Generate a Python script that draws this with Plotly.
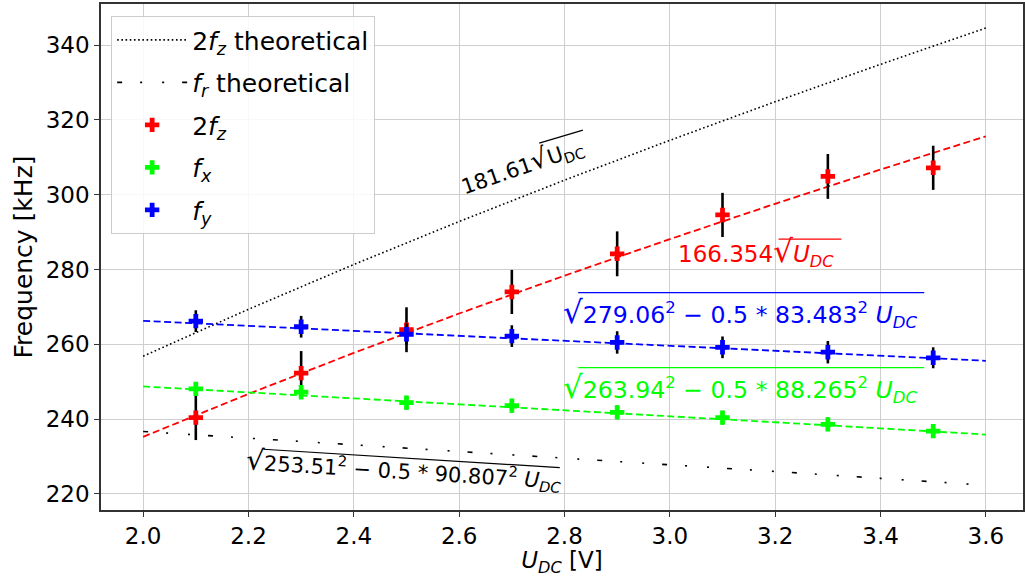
import plotly.graph_objects as go

# ---------------- data ----------------
U_meas = [2.1, 2.3, 2.5, 2.7, 2.9, 3.1, 3.3, 3.5]
f2z = [240.4, 252.3, 263.9, 274.0, 284.2, 294.6, 304.9, 307.2]
f2z_err = [6.0, 5.9, 6.0, 5.9, 6.0, 5.9, 6.0, 5.9]
fx = [248.1, 247.2, 244.4, 243.6, 241.8, 240.4, 238.6, 236.8]
fx_err = [1.8, 1.8, 1.8, 1.8, 1.8, 1.8, 1.8, 1.8]
fy = [266.2, 264.7, 262.7, 262.2, 260.5, 259.2, 257.9, 256.4]
fy_err = [2.9, 2.9, 2.9, 2.9, 3.0, 2.9, 3.0, 2.8]

U_line = [2.0, 2.2, 2.4, 2.6, 2.8, 3.0, 3.2, 3.4, 3.6]
f2z_theory = [256.83, 269.37, 281.35, 292.84, 303.89, 314.55, 324.87, 334.87, 344.58]
fr_theory = [236.69, 234.94, 233.18, 231.40, 229.62, 227.81, 226.00, 224.16, 222.32]
f2z_fit = [235.26, 246.74, 257.71, 268.24, 278.36, 288.13, 297.58, 306.74, 315.63]
fx_fit = [248.74, 247.17, 245.59, 244.00, 242.40, 240.79, 239.16, 237.53, 235.88]
fy_fit = [266.28, 264.97, 263.65, 262.32, 261.00, 259.65, 258.31, 256.96, 255.60]

x_ticks = [2.0, 2.2, 2.4, 2.6, 2.8, 3.0, 3.2, 3.4, 3.6]
y_ticks = [220, 240, 260, 280, 300, 320, 340]

FONT = "DejaVu Sans"
FS = 23
RED, GREEN, BLUE = "#ff0000", "#00ff00", "#0000ff"

fig = go.Figure()

fig.add_trace(go.Scatter(x=U_line, y=f2z_theory, mode="lines", legendgroup="a",
                         line=dict(color="black", width=1.6, dash="1.6px,2.6px"),
                         name="2<i>f</i><sub><i>z</i></sub> theoretical"))
fig.add_trace(go.Scatter(x=U_line, y=fr_theory, mode="lines", legendgroup="b",
                         line=dict(color="black", width=1.6, dash="5px,18px,2px,20px,2px,18px"),
                         name="<i>f</i><sub><i>r</i></sub> theoretical"))

# fit lines (not in legend)
for yy, col in [(f2z_fit, RED), (fx_fit, GREEN), (fy_fit, BLUE)]:
    fig.add_trace(go.Scatter(x=U_line, y=yy, mode="lines", showlegend=False,
                             line=dict(color=col, width=1.8, dash="7px,3.5px")))

for yy, ee, col, nm, g in [(f2z, f2z_err, RED, "2<i>f</i><sub><i>z</i></sub>", "c"),
                           (fx, fx_err, GREEN, "<i>f</i><sub><i>x</i></sub>", "d"),
                           (fy, fy_err, BLUE, "<i>f</i><sub><i>y</i></sub>", "e")]:
    fig.add_trace(go.Scatter(x=U_meas, y=yy, mode="markers", name=nm, legendgroup=g,
                             marker=dict(symbol="cross", size=12, color=col, line=dict(width=0)),
                             error_y=dict(type="data", array=ee, visible=True,
                                          color="black", thickness=2.6, width=0)))

def sq(size):
    return "<span style='font-size:%dpx'>√</span>" % size

annotations = [
    dict(x=2.72, y=307.9, text="181.61" + sq(27) + "U<sub>DC</sub>", textangle=-19,
         font=dict(size=21, color="black")),
    dict(x=3.163, y=284.6, text="166.354" + sq(31) + "<i>U</i><sub><i>DC</i></sub>",
         font=dict(size=FS, color=RED)),
    dict(x=3.134, y=268.5, text=sq(31) + "279.06<sup>2</sup> − 0.5 * 83.483<sup>2</sup> <i>U</i><sub><i>DC</i></sub>",
         font=dict(size=23.6, color=BLUE)),
    dict(x=3.134, y=248.3, text=sq(31) + "263.94<sup>2</sup> − 0.5 * 88.265<sup>2</sup> <i>U</i><sub><i>DC</i></sub>",
         font=dict(size=23.6, color=GREEN)),
    dict(x=2.496, y=226.4, text=sq(28) + "253.51<sup>2</sup> − 0.5 * 90.807<sup>2</sup> <i>U</i><sub><i>DC</i></sub>",
         textangle=3.5, font=dict(size=21, color="black")),
]
for a in annotations:
    a.update(xref="x", yref="y", showarrow=False, xanchor="center", yanchor="middle")
    a["font"]["family"] = FONT

shapes = [
    dict(x0=3.2064, x1=3.3258, y0=288.15, y1=288.15, color=RED),
    dict(x0=2.826, x1=3.483, y0=273.80, y1=273.80, color=BLUE),
    dict(x0=2.826, x1=3.483, y0=253.75, y1=253.75, color=GREEN),
    dict(x0=2.228, x1=2.791, y0=231.95, y1=227.03, color="black"),
    dict(x0=2.752, x1=2.835, y0=313.81, y1=317.29, color="black"),
]
for s in shapes:
    fig.add_shape(type="line", xref="x", yref="y", x0=s["x0"], x1=s["x1"], y0=s["y0"], y1=s["y1"],
                  line=dict(color=s["color"], width=1.2))

fig.update_layout(
    width=1025, height=577, autosize=False,
    margin=dict(l=101, r=0, t=4, b=67),
    paper_bgcolor="white", plot_bgcolor="white",
    font=dict(family=FONT, size=FS, color="black"),
    annotations=annotations,
    showlegend=True,
    legend=dict(x=0.011, y=0.976, xanchor="left", yanchor="top",
                bgcolor="rgba(255,255,255,0.85)", bordercolor="#cccccc", borderwidth=1,
                font=dict(family=FONT, size=25, color="black"), itemwidth=70,
                tracegroupgap=7, traceorder="grouped"),
    xaxis=dict(range=[1.92, 3.6705], tickvals=x_ticks, ticktext=["%.1f" % v for v in x_ticks],
               showgrid=True, gridcolor="#cfcfcf", gridwidth=1,
               showline=True, linecolor="#333333", linewidth=1.5, mirror=True,
               ticks="outside", ticklen=5, tickcolor="#333333", zeroline=False,
               tickfont=dict(size=FS, family=FONT),
               title=dict(text="<i>U</i><sub><i>DC</i></sub> [V]", font=dict(size=FS, family=FONT), standoff=6)),
    yaxis=dict(range=[215.7, 351.0], tickvals=y_ticks, ticktext=[str(v) for v in y_ticks],
               showgrid=True, gridcolor="#cfcfcf", gridwidth=1,
               showline=True, linecolor="#333333", linewidth=1.5, mirror=True,
               ticks="outside", ticklen=5, tickcolor="#333333", zeroline=False,
               tickfont=dict(size=FS, family=FONT),
               title=dict(text="Frequency [kHz]", font=dict(size=25, family=FONT), standoff=6)),
)

fig.write_html("out.html", config={"displayModeBar": False},
               post_script="document.body.style.margin='0px';")
